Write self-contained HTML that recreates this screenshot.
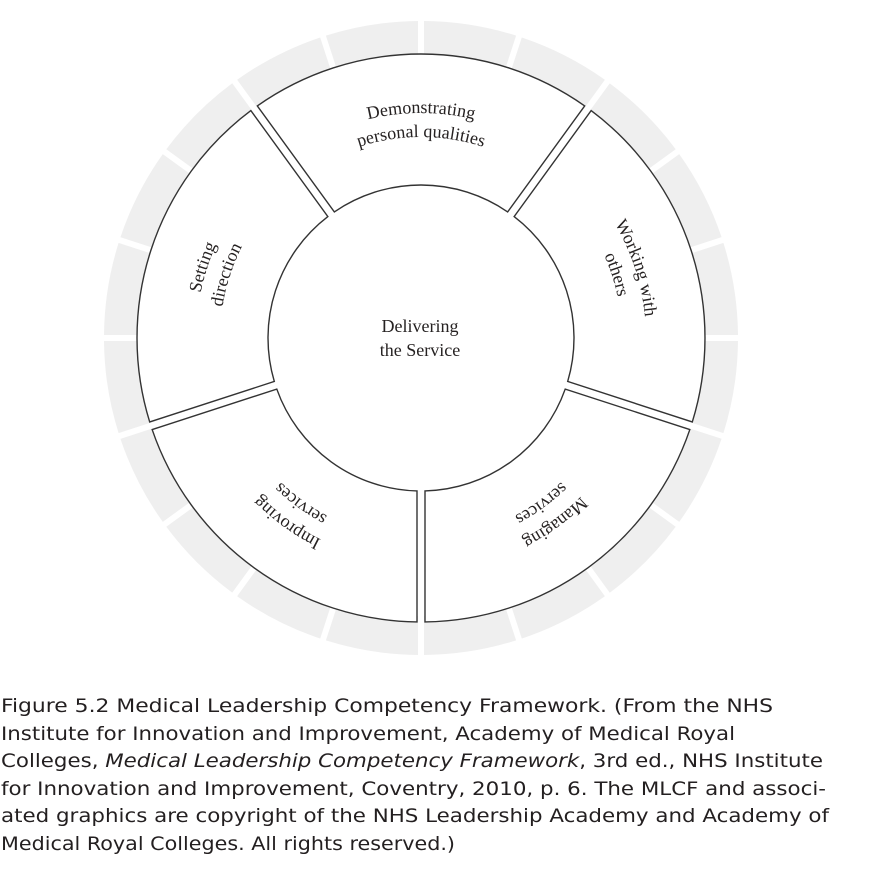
<!DOCTYPE html>
<html><head><meta charset="utf-8"><style>
html,body{margin:0;padding:0;background:#fff;}
svg{display:block;}
.lab{font-family:"Liberation Serif",serif;font-size:18px;fill:#262222;}
.cap{font-family:"DejaVu Sans","Liberation Sans",sans-serif;font-size:19px;fill:#231f20;}
</style></head><body>
<svg width="886" height="880" viewBox="0 0 886 880" xmlns="http://www.w3.org/2000/svg">
<defs>
<path id="g" d="M 3 -316.99 A 317 317 0 0 1 95.10 -302.42 L 83.05 -265.32 A 278 278 0 0 0 3 -277.98 Z" fill="#efefef"/>
<path id="s" d="M -163.68 -232.08 A 284 284 0 0 1 163.68 -232.08 L 86.66 -126.09 A 153 153 0 0 0 -86.66 -126.09 Z" fill="#fff" stroke="#333" stroke-width="1.4"/>
<path id="a1" d="M -194.86 -112.5 A 225 225 0 0 1 194.86 -112.5"/>
<path id="a2" d="M -174.07 -100.5 A 201 201 0 0 1 174.07 -100.5"/>
</defs>
<g transform="translate(421,338)">
<use href="#g" transform="rotate(0)"/><use href="#g" transform="rotate(18)"/><use href="#g" transform="rotate(36)"/><use href="#g" transform="rotate(54)"/><use href="#g" transform="rotate(72)"/>
<use href="#g" transform="rotate(90)"/><use href="#g" transform="rotate(108)"/><use href="#g" transform="rotate(126)"/><use href="#g" transform="rotate(144)"/><use href="#g" transform="rotate(162)"/>
<use href="#g" transform="rotate(180)"/><use href="#g" transform="rotate(198)"/><use href="#g" transform="rotate(216)"/><use href="#g" transform="rotate(234)"/><use href="#g" transform="rotate(252)"/>
<use href="#g" transform="rotate(270)"/><use href="#g" transform="rotate(288)"/><use href="#g" transform="rotate(306)"/><use href="#g" transform="rotate(324)"/><use href="#g" transform="rotate(342)"/>
<use href="#s" transform="rotate(0)"/><use href="#s" transform="rotate(72)"/><use href="#s" transform="rotate(144)"/><use href="#s" transform="rotate(216)"/><use href="#s" transform="rotate(288)"/>
<g transform="rotate(0)"><text class="lab" text-anchor="middle"><textPath href="#a1" startOffset="50%">Demonstrating</textPath></text><text class="lab" text-anchor="middle"><textPath href="#a2" startOffset="50%">personal qualities</textPath></text></g>
<g transform="rotate(72)"><text class="lab" text-anchor="middle"><textPath href="#a1" startOffset="50%">Working with</textPath></text><text class="lab" text-anchor="middle"><textPath href="#a2" startOffset="50%">others</textPath></text></g>
<g transform="rotate(144)"><text class="lab" text-anchor="middle"><textPath href="#a1" startOffset="50%">Managing</textPath></text><text class="lab" text-anchor="middle"><textPath href="#a2" startOffset="50%">services</textPath></text></g>
<g transform="rotate(216)"><text class="lab" text-anchor="middle"><textPath href="#a1" startOffset="50%">Improving</textPath></text><text class="lab" text-anchor="middle"><textPath href="#a2" startOffset="50%">services</textPath></text></g>
<g transform="rotate(288)"><text class="lab" text-anchor="middle"><textPath href="#a1" startOffset="50%">Setting</textPath></text><text class="lab" text-anchor="middle"><textPath href="#a2" startOffset="50%">direction</textPath></text></g>
</g>
<text class="lab" x="420" y="332" text-anchor="middle">Delivering</text>
<text class="lab" x="420" y="356" text-anchor="middle">the Service</text>
<text class="cap" x="1" y="712" textLength="772" lengthAdjust="spacingAndGlyphs">Figure 5.2  Medical Leadership Competency Framework. (From the NHS</text>
<text class="cap" x="1" y="740" textLength="734" lengthAdjust="spacingAndGlyphs">Institute for Innovation and Improvement, Academy of Medical Royal</text>
<text class="cap" x="1" y="767" textLength="822" lengthAdjust="spacingAndGlyphs">Colleges, <tspan font-style="italic">Medical Leadership Competency Framework</tspan>, 3rd ed., NHS Institute</text>
<text class="cap" x="1" y="795" textLength="825" lengthAdjust="spacingAndGlyphs">for Innovation and Improvement, Coventry, 2010, p. 6. The MLCF and associ-</text>
<text class="cap" x="1" y="822" textLength="828" lengthAdjust="spacingAndGlyphs">ated graphics are copyright of the NHS Leadership Academy and Academy of</text>
<text class="cap" x="1" y="850" textLength="454" lengthAdjust="spacingAndGlyphs">Medical Royal Colleges. All rights reserved.)</text>
</svg>
</body></html>
